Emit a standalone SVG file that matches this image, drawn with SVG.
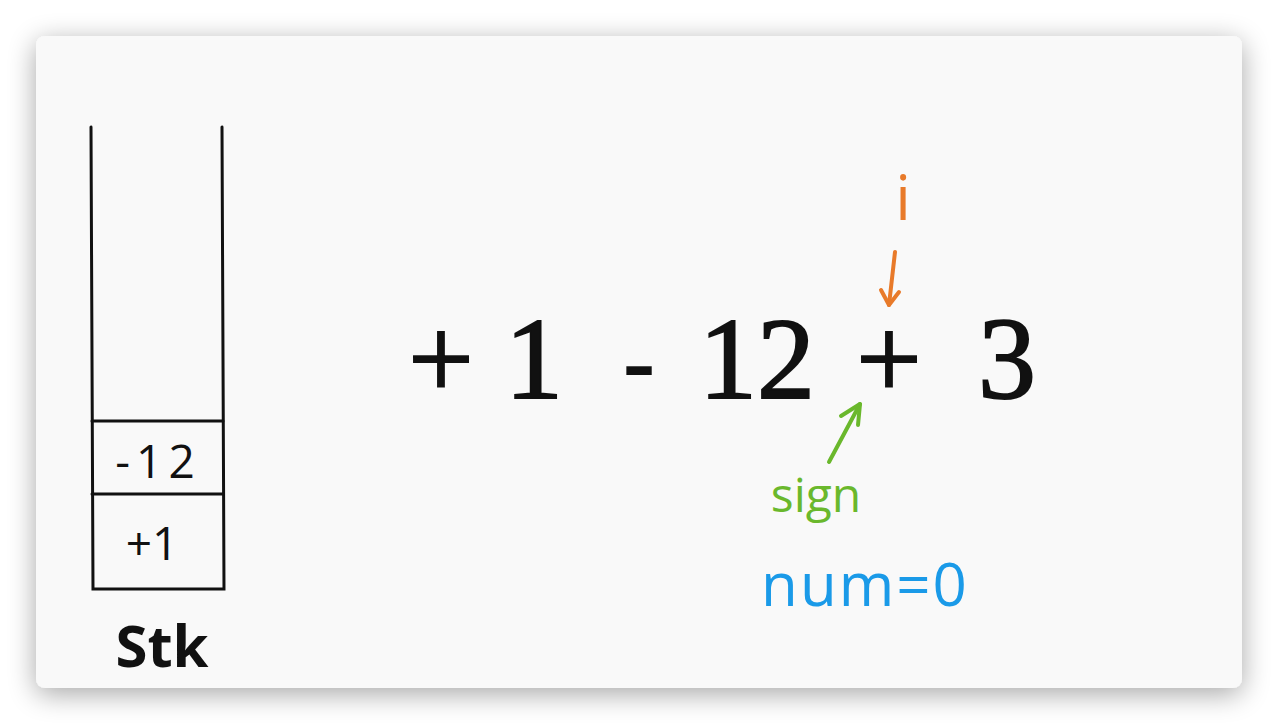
<svg xmlns="http://www.w3.org/2000/svg" width="1278" height="724" viewBox="0 0 1278 724">
<defs>
<filter id="sh" x="-10%" y="-10%" width="120%" height="120%">
<feGaussianBlur in="SourceAlpha" stdDeviation="14"/>
<feOffset dx="0" dy="6"/>
<feComponentTransfer><feFuncA type="linear" slope="0.35"/></feComponentTransfer>
<feMerge><feMergeNode/><feMergeNode in="SourceGraphic"/></feMerge>
</filter>
<style>
.stk{fill:none;stroke:#111;stroke-width:3;stroke-linecap:round}
.hand{font-family:"Open Sans","DejaVu Sans",sans-serif;fill:#111}
.expr{font-family:"Liberation Serif","DejaVu Serif",serif;font-size:116px;fill:#111;stroke:#111;stroke-width:2}
.or{stroke:#e87a2a;stroke-width:4;fill:none;stroke-linecap:round;stroke-linejoin:round}
.gr{stroke:#6ab82c;stroke-width:4;fill:none;stroke-linecap:round;stroke-linejoin:round}
</style>
</defs>
<rect width="1278" height="724" fill="#ffffff"/>
<rect x="36" y="36" width="1206" height="652" rx="9" fill="#f9f9f9" filter="url(#sh)"/>
<g id="stack">
<path class="stk" d="M91 127 L93 589 L224 589 L222 127"/>
<line class="stk" x1="92" y1="421" x2="223" y2="421"/>
<line class="stk" x1="92" y1="494" x2="223" y2="494"/>
</g>
<g id="item-neg12"><text class="hand" x="158" y="478" font-size="46" letter-spacing="6" text-anchor="middle">-12</text></g>
<g id="item-pos1"><text class="hand" x="152" y="560" font-size="46" text-anchor="middle">+1</text></g>
<g id="label-stk"><text class="hand" x="162" y="667" font-size="58" font-weight="bold" text-anchor="middle">Stk</text></g>
<g id="expression" class="expr" text-anchor="middle">
<text x="441" y="398">+</text>
<text x="534" y="398">1</text>
<text x="639" y="392" font-size="90">-</text>
<text x="757" y="398">12</text>
<text x="889" y="398">+</text>
<text x="1007" y="398">3</text>
</g>
<g id="label-i"><text x="903" y="220" font-family="Open Sans,sans-serif" font-size="62" fill="#e87a2a" text-anchor="middle">i</text></g>
<g id="label-sign"><text x="816" y="512" font-family="Open Sans,sans-serif" font-size="48" fill="#6ab82c" text-anchor="middle">sign</text></g>
<g id="label-num"><text x="865" y="606" font-family="Open Sans,sans-serif" font-size="60" fill="#1a9ae8" text-anchor="middle" letter-spacing="2">num=0</text></g>
<g id="connectors">
<path class="or" d="M895 252 L889 305"/>
<path class="or" d="M881 290 L889 305 L899 292"/>
<path class="gr" d="M829 462 L860 404"/>
<path class="gr" d="M841 416 L860 404 L858 425"/>
</g>
</svg>
